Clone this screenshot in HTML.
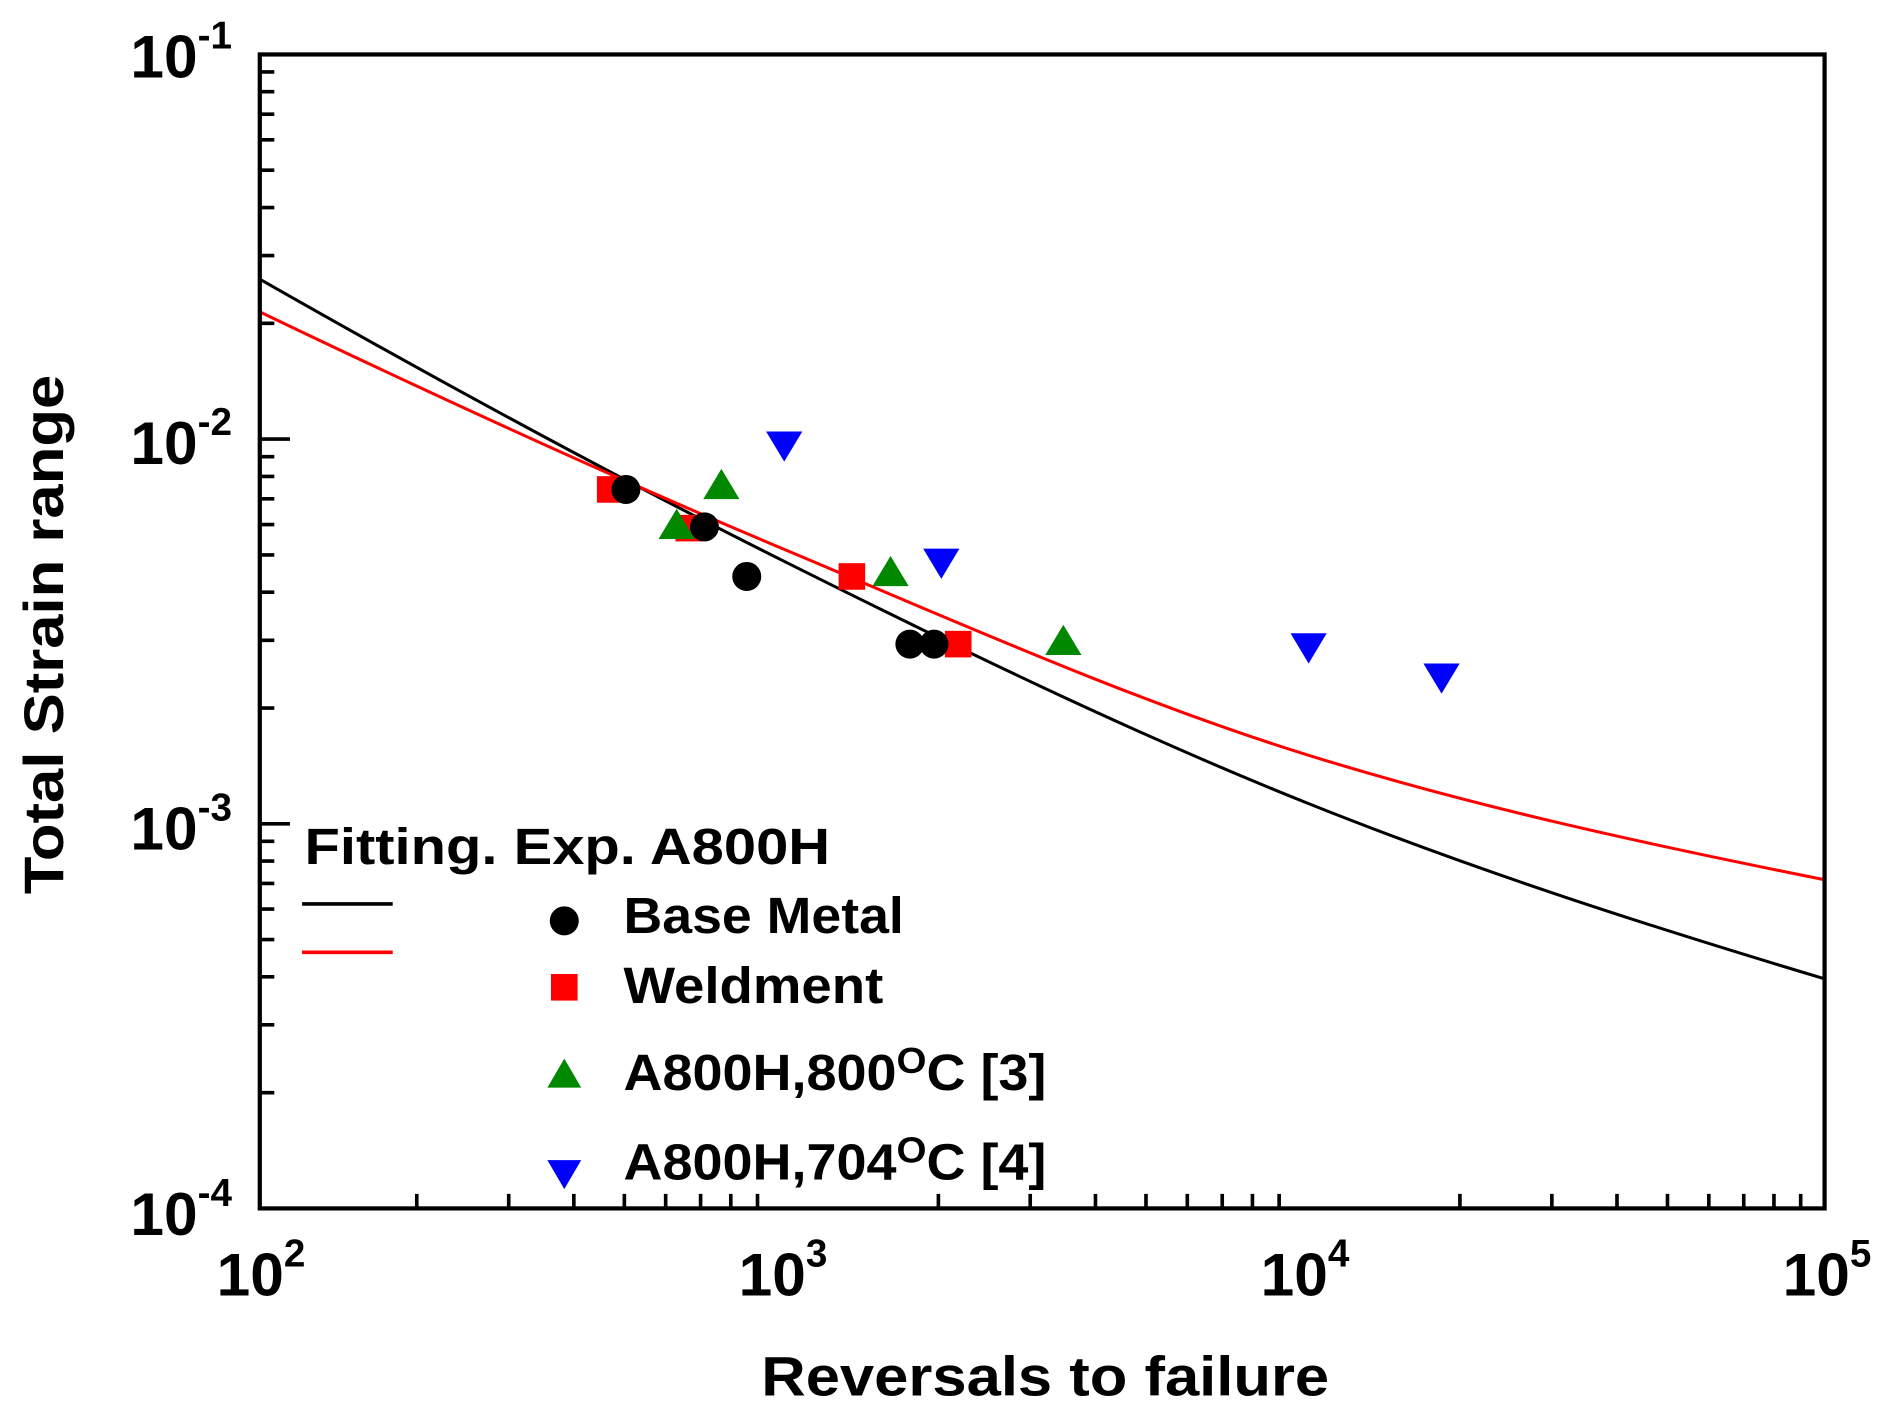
<!DOCTYPE html>
<html><head><meta charset="utf-8"><style>html,body{margin:0;padding:0;background:#fff}svg{display:block}</style></head>
<body>
<svg width="1885" height="1426" viewBox="0 0 1560 1180" xmlns="http://www.w3.org/2000/svg" font-family="Liberation Sans, Arial, sans-serif" font-weight="bold">
<rect width="1560" height="1180" fill="#fff"/>
<path stroke="#000" stroke-width="3" fill="none" d="
M344.9,1000V988 M421,1000V988 M474.9,1000V988 M516.7,1000V988 M550.9,1000V988 M579.8,1000V988 M604.8,1000V988 M626.9,1000V988
M776.6,1000V988 M852.6,1000V988 M906.6,1000V988 M948.4,1000V988 M982.6,1000V988 M1011.5,1000V988 M1036.5,1000V988 M1058.6,1000V988
M1208.2,1000V988 M1284.3,1000V988 M1338.2,1000V988 M1380,1000V988 M1414.2,1000V988 M1443.1,1000V988 M1468.1,1000V988 M1490.2,1000V988
M215,904.2H227 M215,848.1H227 M215,808.3H227 M215,777.5H227 M215,752.3H227 M215,731H227 M215,712.5H227 M215,696.2H227
M215,585.9H227 M215,529.8H227 M215,490H227 M215,459.2H227 M215,434H227 M215,412.7H227 M215,394.2H227 M215,377.9H227
M215,267.5H227 M215,211.4H227 M215,171.7H227 M215,140.8H227 M215,115.6H227 M215,94.4H227 M215,75.8H227 M215,59.5H227
M215,681.7H240 M215,363.3H240"/>
<path fill="none" stroke="#000" stroke-width="2.5" d="M215,231 C360,313.7 505,392.5 650,465 C794.3,537.2 938.7,607.3 1083,665 C1225.3,721.9 1367.7,767.3 1510,810"/>
<path fill="none" stroke="#f00" stroke-width="2.5" d="M215,258 C360,327.6 505,394.1 650,455 C794.3,515.6 938.7,580.3 1083,625 C1225.3,669.1 1367.7,699.5 1510,728"/>
<g fill="#f00">
<rect x="494" y="394" width="22" height="22"/><rect x="559" y="426" width="22" height="22"/><rect x="694" y="466" width="22" height="22"/><rect x="782" y="522" width="22" height="22"/>
</g>
<g fill="#000">
<circle cx="518" cy="405" r="12"/><circle cx="583" cy="436" r="12"/><circle cx="618" cy="477" r="12"/><circle cx="753" cy="533" r="12"/><circle cx="773" cy="533" r="12"/>
</g>
<g fill="#080">
<polygon points="560,421 575,446 545,446"/><polygon points="597,388 612,413 582,413"/><polygon points="737,460 752,485 722,485"/><polygon points="880,517 895,542 865,542"/>
</g>
<g fill="#00f">
<polygon points="634,357 664,357 649,382"/><polygon points="764,454 794,454 779,479"/><polygon points="1068,524 1098,524 1083,549"/><polygon points="1178,549 1208,549 1193,574"/>
</g>
<rect x="215" y="45" width="1295" height="955" fill="none" stroke="#000" stroke-width="3.5"/>
<g font-size="50" text-anchor="end">
<text x="192" y="64">10<tspan dy="-24" font-size="32">-1</tspan></text>
<text x="192" y="384">10<tspan dy="-24" font-size="32">-2</tspan></text>
<text x="192" y="703">10<tspan dy="-24" font-size="32">-3</tspan></text>
<text x="192" y="1022">10<tspan dy="-24" font-size="32">-4</tspan></text>
</g>
<g font-size="50" text-anchor="middle">
<text x="216" y="1072">10<tspan dy="-24" font-size="32">2</tspan></text>
<text x="648" y="1072">10<tspan dy="-24" font-size="32">3</tspan></text>
<text x="1080" y="1072">10<tspan dy="-24" font-size="32">4</tspan></text>
<text x="1512" y="1072">10<tspan dy="-24" font-size="32">5</tspan></text>
</g>
<text x="630" y="1155" font-size="46" textLength="470" lengthAdjust="spacingAndGlyphs">Reversals to failure</text>
<text transform="translate(52,740) rotate(-90)" font-size="46" textLength="430" lengthAdjust="spacingAndGlyphs">Total Strain range</text>
<text x="252" y="715" font-size="42" textLength="435" lengthAdjust="spacingAndGlyphs">Fitting.  Exp. A800H</text>
<line x1="250" y1="748" x2="325" y2="748" stroke="#000" stroke-width="3"/>
<line x1="250" y1="788" x2="325" y2="788" stroke="#f00" stroke-width="3"/>
<circle cx="467" cy="762" r="12" fill="#000"/>
<rect x="456" y="806" width="22" height="22" fill="#f00"/>
<polygon points="467,876 481,900 453,900" fill="#080"/>
<polygon points="453,960 481,960 467,984" fill="#00f"/>
<g font-size="42">
<text x="516" y="772" textLength="232" lengthAdjust="spacingAndGlyphs">Base Metal</text>
<text x="516" y="830" textLength="215" lengthAdjust="spacingAndGlyphs">Weldment</text>
<text x="516" y="902" textLength="350" lengthAdjust="spacingAndGlyphs">A800H,800<tspan dy="-14" font-size="30">O</tspan><tspan dy="14">C [3]</tspan></text>
<text x="516" y="976" textLength="350" lengthAdjust="spacingAndGlyphs">A800H,704<tspan dy="-14" font-size="30">O</tspan><tspan dy="14">C [4]</tspan></text>
</g>
</svg>
</body></html>
